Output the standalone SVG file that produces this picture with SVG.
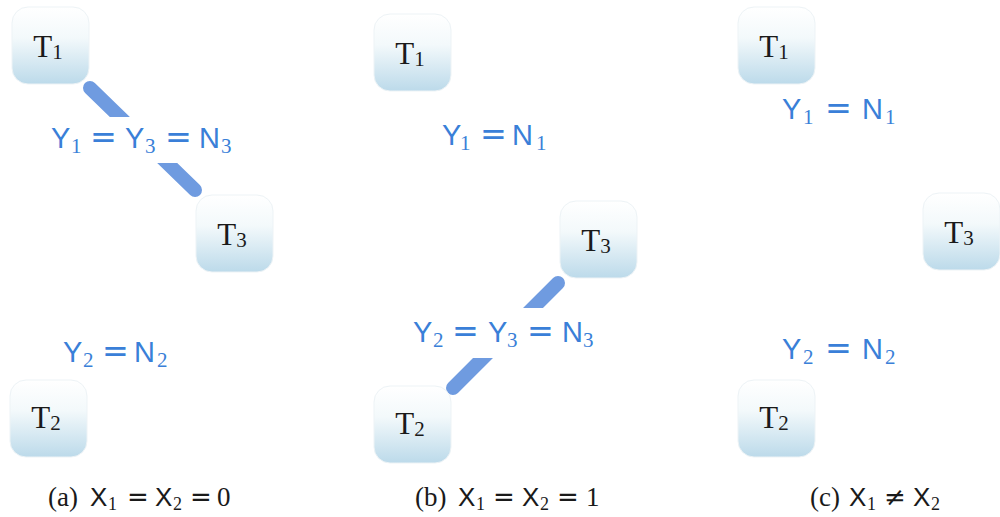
<svg xmlns="http://www.w3.org/2000/svg" width="1000" height="517" viewBox="0 0 1000 517">
<defs>
<linearGradient id="g" x1="0" y1="0" x2="0" y2="1">
<stop offset="0" stop-color="#ffffff"/>
<stop offset="0.4" stop-color="#f3f9fb"/>
<stop offset="1" stop-color="#bcdaea"/>
</linearGradient>
<clipPath id="cutA"><rect x="0" y="0" width="330" height="117"/><rect x="0" y="163" width="330" height="300"/></clipPath>
<clipPath id="cutB"><rect x="340" y="0" width="330" height="308"/><rect x="340" y="358" width="330" height="150"/></clipPath>
</defs>
<style>
.box{fill:url(#g);stroke:#edf3f6;stroke-width:1}
.t{font-family:"Liberation Serif",serif;font-size:31px;fill:#1a1a1a}
.s{font-size:21px}
.lab{font-family:"Liberation Sans",sans-serif;font-size:29px;fill:#3a7fd8}
.sub{font-family:"Liberation Serif",serif;font-size:21px}
.eq{font-family:"DejaVu Sans",sans-serif;font-size:32px}
.e{stroke:#6f9be0;stroke-width:14;stroke-linecap:round;fill:none}
.cap{font-family:"Liberation Serif",serif;font-size:27px;fill:#1a1a1a}
.cx{font-family:"Liberation Sans",sans-serif;font-size:26px}
.ceq{font-family:"DejaVu Sans",sans-serif;font-size:26px}
.cs{font-family:"Liberation Serif",serif;font-size:18px}
</style>
<g id="connectors">
<line class="e" x1="90" y1="88" x2="195" y2="190" clip-path="url(#cutA)"/>
<line class="e" x1="558" y1="283" x2="453" y2="388" clip-path="url(#cutB)"/>
</g>
<g id="a-T1"><rect class="box" x="12" y="7" width="77" height="77" rx="16"/><text class="t" x="48" y="57" text-anchor="middle">T<tspan class="s" dy="2">1</tspan></text></g>
<g id="a-T3"><rect class="box" x="196" y="195" width="77" height="77" rx="16"/><text class="t" x="232" y="245" text-anchor="middle">T<tspan class="s" dy="2">3</tspan></text></g>
<g id="a-T2"><rect class="box" x="10" y="380" width="77" height="77" rx="16"/><text class="t" x="46" y="428" text-anchor="middle">T<tspan class="s" dy="2">2</tspan></text></g>
<g id="b-T1"><rect class="box" x="374" y="14" width="77" height="77" rx="16"/><text class="t" x="410" y="64" text-anchor="middle">T<tspan class="s" dy="2">1</tspan></text></g>
<g id="b-T3"><rect class="box" x="560" y="201" width="77" height="77" rx="16"/><text class="t" x="596" y="251" text-anchor="middle">T<tspan class="s" dy="2">3</tspan></text></g>
<g id="b-T2"><rect class="box" x="374" y="386" width="77" height="77" rx="16"/><text class="t" x="410" y="434" text-anchor="middle">T<tspan class="s" dy="2">2</tspan></text></g>
<g id="c-T1"><rect class="box" x="738" y="7" width="77" height="77" rx="16"/><text class="t" x="774" y="57" text-anchor="middle">T<tspan class="s" dy="2">1</tspan></text></g>
<g id="c-T3"><rect class="box" x="923" y="193" width="77" height="77" rx="16"/><text class="t" x="959" y="243" text-anchor="middle">T<tspan class="s" dy="2">3</tspan></text></g>
<g id="c-T2"><rect class="box" x="738" y="380" width="77" height="77" rx="16"/><text class="t" x="774" y="428" text-anchor="middle">T<tspan class="s" dy="2">2</tspan></text></g>
<g id="labels">
<text class="lab" y="148"><tspan x="51">Y</tspan><tspan class="sub" x="71" dy="5">1</tspan><tspan class="eq" x="90" dy="-5">=</tspan><tspan x="125">Y</tspan><tspan class="sub" x="145" dy="5">3</tspan><tspan class="eq" x="165" dy="-5">=</tspan><tspan x="199">N</tspan><tspan class="sub" x="221" dy="5">3</tspan></text>
<text class="lab" y="362"><tspan x="63">Y</tspan><tspan class="sub" x="83" dy="5">2</tspan><tspan class="eq" x="102" dy="-5">=</tspan><tspan x="134">N</tspan><tspan class="sub" x="157" dy="5">2</tspan></text>
<text class="lab" y="145"><tspan x="442">Y</tspan><tspan class="sub" x="460" dy="5">1</tspan><tspan class="eq" x="480" dy="-5">=</tspan><tspan x="512">N</tspan><tspan class="sub" x="536" dy="5">1</tspan></text>
<text class="lab" y="342"><tspan x="413">Y</tspan><tspan class="sub" x="433" dy="5">2</tspan><tspan class="eq" x="452" dy="-5">=</tspan><tspan x="488">Y</tspan><tspan class="sub" x="507" dy="5">3</tspan><tspan class="eq" x="527" dy="-5">=</tspan><tspan x="562">N</tspan><tspan class="sub" x="583" dy="5">3</tspan></text>
<text class="lab" y="119"><tspan x="782">Y</tspan><tspan class="sub" x="803" dy="5">1</tspan><tspan class="eq" x="825" dy="-5">=</tspan><tspan x="862">N</tspan><tspan class="sub" x="885" dy="5">1</tspan></text>
<text class="lab" y="359"><tspan x="782">Y</tspan><tspan class="sub" x="803" dy="5">2</tspan><tspan class="eq" x="825" dy="-5">=</tspan><tspan x="862">N</tspan><tspan class="sub" x="885" dy="5">2</tspan></text>
</g>
<g id="captions">
<text class="cap" y="506"><tspan x="48">(a)</tspan><tspan class="cx" x="90">X</tspan><tspan class="cs" x="108" dy="4">1</tspan><tspan class="ceq" x="127" dy="-4">=</tspan><tspan class="cx" x="155">X</tspan><tspan class="cs" x="173" dy="4">2</tspan><tspan class="ceq" x="190" dy="-4">=</tspan><tspan x="217">0</tspan></text>
<text class="cap" y="506"><tspan x="415">(b)</tspan><tspan class="cx" x="458">X</tspan><tspan class="cs" x="476" dy="4">1</tspan><tspan class="ceq" x="493" dy="-4">=</tspan><tspan class="cx" x="522">X</tspan><tspan class="cs" x="540" dy="4">2</tspan><tspan class="ceq" x="557" dy="-4">=</tspan><tspan x="586">1</tspan></text>
<text class="cap" y="506"><tspan x="810">(c)</tspan><tspan class="cx" x="849">X</tspan><tspan class="cs" x="867" dy="4">1</tspan><tspan class="ceq" x="884" dy="-4">≠</tspan><tspan class="cx" x="913">X</tspan><tspan class="cs" x="931" dy="4">2</tspan></text>
</g>
</svg>
